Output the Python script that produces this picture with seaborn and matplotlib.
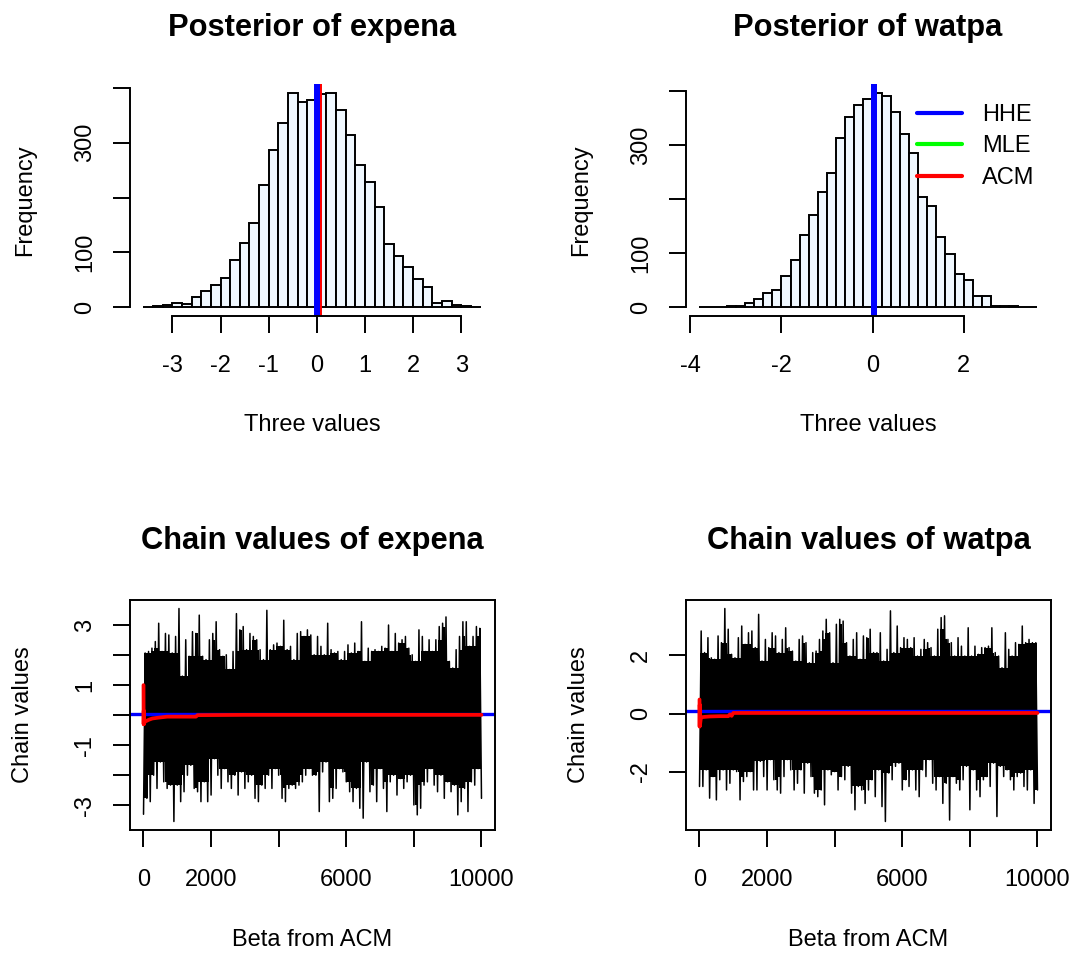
import numpy as np
import pandas as pd
import matplotlib
matplotlib.use("Agg")
import matplotlib.pyplot as plt
import seaborn as sns
from matplotlib.lines import Line2D

# ---------------- data ----------------
bin_width = 0.2
expena_break_start = -3.6
expena_counts = [1, 3, 4, 8, 7, 19, 30, 40, 54, 87, 118, 154, 222, 286, 336, 391,
                 373, 378, 388, 391, 360, 313, 260, 228, 183, 115, 94, 73, 51, 37,
                 8, 12, 4, 3, 1]
watpa_break_start = -3.8
watpa_counts = [0, 0, 1, 2, 3, 9, 15, 26, 33, 58, 88, 134, 170, 213, 249, 313, 352,
                374, 386, 397, 390, 361, 321, 286, 204, 188, 131, 99, 62, 51, 21, 21,
                3, 3, 2, 1, 0]

# estimates drawn as vertical lines on the histograms (HHE, MLE, ACM)
estimate_names = ["HHE", "MLE", "ACM"]
estimate_colors = ["#0000FF", "#00FF00", "#FF0000"]
expena_estimates = [0.005, 0.02, 0.04]
watpa_estimates = [0.04, 0.035, 0.035]

# chain values: upper / lower extremes read every 100 iterations
expena_first = -3.30
expena_upper = [2.07, 2.12, 2.23, 2.45, 3.06, 2.12, 2.72, 2.67, 2.07, 2.62,
                3.55, 1.30, 2.51, 1.96, 2.78, 2.72, 3.33, 1.96, 1.85, 2.51,
                2.72, 3.11, 2.18, 1.96, 2.01, 1.52, 2.12, 3.38, 2.84, 2.95,
                2.18, 2.72, 2.62, 2.51, 2.18, 1.85, 3.49, 2.18, 2.34, 2.40,
                2.29, 3.16, 2.18, 2.29, 1.85, 2.72, 2.78, 2.62, 2.84, 2.67,
                2.01, 2.62, 2.29, 2.01, 3.06, 2.18, 2.07, 2.12, 1.85, 2.12,
                2.34, 2.07, 2.40, 2.12, 3.11, 1.79, 2.23, 2.12, 2.18, 2.12,
                2.29, 2.23, 3.00, 2.12, 2.72, 2.40, 2.51, 2.62, 2.23, 2.01,
                1.79, 2.84, 2.62, 2.12, 2.51, 2.12, 2.51, 2.95, 3.06, 3.27,
                1.79, 1.57, 2.18, 2.62, 3.11, 3.11, 2.29, 2.62, 2.95, 2.89]
expena_lower = [-2.77, -2.88, -2.00, -2.44, -1.56, -2.22, -2.44, -2.33, -3.54, -2.33,
                -2.88, -2.55, -2.00, -1.67, -2.44, -2.55, -2.88, -2.22, -2.88, -2.66,
                -1.45, -2.00, -2.44, -1.78, -2.22, -2.44, -2.00, -2.66, -1.89, -2.44,
                -2.22, -2.00, -2.77, -2.88, -2.33, -2.44, -2.00, -2.44, -1.78, -2.00,
                -2.77, -2.88, -2.44, -2.33, -2.44, -2.33, -2.22, -2.00, -1.78, -2.00,
                -2.00, -3.21, -1.89, -1.56, -2.88, -2.77, -2.44, -1.78, -1.89, -2.22,
                -2.55, -2.88, -2.44, -3.10, -3.43, -1.56, -2.55, -2.33, -2.88, -1.78,
                -2.44, -3.21, -2.22, -2.00, -2.66, -2.11, -2.44, -2.22, -2.00, -2.99,
                -3.32, -3.10, -2.33, -2.22, -1.78, -2.33, -2.55, -2.00, -2.77, -2.22,
                -2.55, -2.33, -3.32, -2.88, -2.44, -3.21, -2.22, -2.33, -1.78, -2.77]
watpa_first = -2.50
watpa_upper = [2.83, 2.09, 2.60, 1.91, 1.86, 2.66, 2.43, 3.60, 2.89, 2.03,
               1.91, 2.60, 3.00, 2.37, 2.77, 2.83, 2.26, 3.40, 1.80, 2.54,
               2.26, 2.77, 2.66, 2.09, 2.54, 2.94, 2.26, 2.14, 1.80, 2.54,
               2.66, 2.43, 1.74, 2.09, 2.14, 2.54, 2.83, 3.23, 2.77, 1.74,
               3.06, 3.23, 3.17, 2.43, 1.97, 2.54, 2.77, 1.86, 2.66, 2.60,
               2.89, 2.09, 2.09, 2.77, 1.80, 2.20, 3.52, 2.09, 3.00, 2.26,
               2.60, 2.54, 2.26, 2.60, 1.97, 2.20, 2.54, 2.43, 2.26, 1.97,
               2.89, 3.29, 3.35, 2.54, 2.43, 1.97, 2.60, 2.31, 1.97, 2.94,
               1.97, 2.31, 2.03, 2.26, 2.26, 2.31, 2.94, 2.09, 1.97, 1.57,
               2.77, 2.20, 1.97, 2.43, 2.37, 3.00, 2.43, 2.54, 2.43, 2.43]
watpa_lower = [-2.50, -1.93, -2.90, -2.16, -2.96, -2.27, -1.93, -2.62, -2.39, -1.93,
               -1.99, -2.96, -2.33, -2.16, -1.99, -2.62, -2.62, -1.64, -2.16, -2.62,
               -1.58, -2.27, -2.62, -2.73, -2.16, -1.58, -1.93, -2.62, -2.39, -1.93,
               -2.73, -1.70, -2.16, -2.73, -2.85, -2.62, -3.13, -1.93, -2.10, -1.99,
               -2.62, -2.16, -2.27, -1.81, -2.73, -3.30, -2.50, -2.62, -3.08, -2.62,
               -2.27, -2.85, -1.93, -3.19, -3.70, -2.04, -2.27, -1.81, -1.70, -2.62,
               -2.27, -2.50, -1.93, -2.62, -2.85, -1.93, -2.16, -1.58, -2.39, -2.62,
               -2.16, -3.08, -2.39, -3.65, -2.16, -2.39, -2.62, -2.27, -1.81, -3.30,
               -1.93, -2.62, -2.85, -2.27, -2.16, -2.50, -1.70, -3.53, -1.81, -2.16,
               -1.93, -2.27, -2.62, -2.16, -2.04, -2.50, -2.62, -1.93, -3.08, -2.62]
n_iter = 10000

# ACM running estimate (red) and HHE level (blue) on the trace plots
expena_acm_iter = [1, 4, 8, 15, 35, 165, 265, 465, 700, 1550, 1600, 3000, 10000]
expena_acm = [1.00, -0.30, 0.15, -0.30, -0.22, -0.15, -0.11, -0.08, -0.05, -0.05,
              0.00, 0.01, 0.01]
watpa_acm_iter = [1, 4, 8, 15, 40, 100, 300, 600, 850, 900, 950, 1000, 3000, 10000]
watpa_acm = [0.48, -0.45, 0.30, -0.40, -0.15, -0.12, -0.10, -0.09, -0.09, -0.03,
             -0.08, 0.02, 0.02, 0.02]
expena_hhe_level = 0.03
watpa_hhe_level = 0.10

# ---------------- style ----------------
sns.set_style("ticks")
plt.rcParams["font.family"] = ["Liberation Sans", "DejaVu Sans"]
plt.rcParams["axes.unicode_minus"] = False
plt.rcParams["text.color"] = "black"
plt.rcParams["axes.labelcolor"] = "black"
plt.rcParams["xtick.color"] = "black"
plt.rcParams["ytick.color"] = "black"
FS = 17
TFS = 22.2
LW = 1.4

W, H = 1075, 959
fig = plt.figure(figsize=(W / 100, H / 100), dpi=100)


def add_ax(x0, y0, x1, y1):
    return fig.add_axes([x0 / W, 1 - y1 / H, (x1 - x0) / W, (y1 - y0) / H])


def style_axis(ax, xticks, xlabels, yticks, ylabels):
    ax.set_xticks(xticks)
    ax.set_xticklabels(xlabels)
    ax.set_yticks(yticks)
    ax.set_yticklabels(ylabels, rotation=90, va="center", ha="right")
    ax.tick_params(axis="both", direction="out", length=12.5, width=LW,
                   color="black", labelsize=FS, labelcolor="black",
                   bottom=True, left=True, top=False, right=False)
    ax.tick_params(axis="x", pad=15.5)
    ax.tick_params(axis="y", pad=12.0)
    ax.set_xlabel("")
    ax.set_ylabel("")
    ax.grid(False)
    for s in ax.spines.values():
        s.set_linewidth(LW)
        s.set_color("black")


def hist_panel(rect, start, counts, estimates, xticks, title, legend=False):
    ax = add_ax(*rect)
    n = len(counts)
    edges = (start + bin_width * np.arange(n + 1)).round(6)
    centers = edges[:-1] + bin_width / 2
    df = pd.DataFrame({"value": centers, "count": counts})
    sns.histplot(data=df, x="value", weights="count", bins=edges.tolist(), stat="count",
                 color="#F0F8FF", alpha=1, edgecolor="black", linewidth=LW, ax=ax)
    # draw MLE, ACM, then HHE on top
    for i in [1, 2, 0]:
        ax.axvline(estimates[i], color=estimate_colors[i], lw=4.3)
    lo, hi = edges[0], edges[-1]
    pad = 0.04 * (hi - lo)
    ax.set_xlim(lo - pad, hi + pad)
    m = max(counts)
    ax.set_ylim(-0.04 * m, 1.04 * m)
    style_axis(ax, xticks, [str(t) for t in xticks],
               [0, 100, 200, 300, 400], ["0", "100", "", "300", ""])
    ax.spines["top"].set_visible(False)
    ax.spines["right"].set_visible(False)
    ax.spines["bottom"].set_bounds(xticks[0], xticks[-1])
    ax.spines["left"].set_bounds(0, 400)
    cx = (rect[0] + rect[2]) / 2
    fig.text(cx / W, 1 - 28 / H, title, ha="center", va="center",
             fontsize=TFS, fontweight="bold")
    fig.text(cx / W, 1 - 425 / H, "Three values", ha="center", va="center", fontsize=FS)
    fig.text((rect[0] - 105) / W, 1 - 200 / H, "Frequency", ha="center", va="center",
             rotation=90, fontsize=FS)
    if legend:
        handles = [Line2D([], [], color=c, lw=3) for c in estimate_colors]
        ax.legend(handles, estimate_names, frameon=False, loc="upper left",
                  bbox_to_anchor=(917 / W, 1 - 104 / H), bbox_transform=fig.transFigure,
                  borderaxespad=0, borderpad=0, handlelength=1.9, handletextpad=0.85,
                  labelspacing=0.40, fontsize=FS)
    return ax


def trace_panel(rect, first, upper, lower, acm_iter, acm, hhe, yticks, ylabels, title):
    ax = add_ax(*rect)
    up = np.asarray(upper, float)
    lo = np.asarray(lower, float)
    k = np.arange(len(up))
    up_it = 50 + 100 * k
    lo_it = 100 + 100 * k
    # solid core of the trace: the lowest neighbouring peak / highest neighbouring trough
    upp = np.pad(up, 1, mode="edge")
    lop = np.pad(lo, 1, mode="edge")
    core_up = np.minimum(np.minimum(upp[:-2], upp[1:-1]), upp[2:])
    core_lo = np.maximum(np.maximum(lop[:-2], lop[1:-1]), lop[2:])
    core_x = np.concatenate([[1], up_it + 25, [n_iter]])
    core_u = np.concatenate([[core_up[0]], core_up, [core_up[-1]]])
    core_l = np.concatenate([[core_lo[0]], core_lo, [core_lo[-1]]])
    ax.fill_between(core_x, core_l, core_u, color="black", lw=0, step="mid")
    # the chain itself
    its = np.empty(2 * len(up) + 1)
    vals = np.empty(2 * len(up) + 1)
    its[0], vals[0] = 1, first
    its[1::2], its[2::2] = up_it, lo_it
    vals[1::2], vals[2::2] = up, lo
    chain = pd.DataFrame({"iter": its, "value": vals})
    sns.lineplot(data=chain, x="iter", y="value", color="black", lw=1.1,
                 estimator=None, sort=False, ax=ax)
    ax.axhline(hhe, color="#0000FF", lw=2.4)
    acm_df = pd.DataFrame({"iter": acm_iter, "value": acm})
    sns.lineplot(data=acm_df, x="iter", y="value", color="#FF0000", lw=2.7,
                 estimator=None, sort=False, ax=ax)
    xpad = 0.04 * (n_iter - 1)
    ax.set_xlim(1 - xpad, n_iter + xpad)
    vmin, vmax = min(vals.min(), min(acm)), max(vals.max(), max(acm))
    ypad = 0.04 * (vmax - vmin)
    ax.set_ylim(vmin - ypad, vmax + ypad)
    style_axis(ax, [0, 2000, 4000, 6000, 8000, 10000],
               ["0", "2000", "", "6000", "", "10000"], yticks, ylabels)
    cx = (rect[0] + rect[2]) / 2
    fig.text(cx / W, 1 - 541 / H, title, ha="center", va="center",
             fontsize=TFS, fontweight="bold")
    fig.text(cx / W, 1 - 940 / H, "Beta from ACM", ha="center", va="center", fontsize=FS)
    fig.text((rect[0] - 107) / W, 1 - 715 / H, "Chain values", ha="center", va="center",
             rotation=90, fontsize=FS)
    return ax


hist_panel((130, 84, 494, 316), expena_break_start, expena_counts, expena_estimates,
           [-3, -2, -1, 0, 1, 2, 3], "Posterior of expena")
hist_panel((686, 84, 1050, 316), watpa_break_start, watpa_counts, watpa_estimates,
           [-4, -2, 0, 2], "Posterior of watpa", legend=True)
trace_panel((130, 600, 495, 830), expena_first, expena_upper, expena_lower,
            expena_acm_iter, expena_acm, expena_hhe_level,
            [-3, -2, -1, 0, 1, 2, 3], ["-3", "", "-1", "", "1", "", "3"],
            "Chain values of expena")
trace_panel((686, 600, 1051, 830), watpa_first, watpa_upper, watpa_lower,
            watpa_acm_iter, watpa_acm, watpa_hhe_level,
            [-2, 0, 2], ["-2", "0", "2"], "Chain values of watpa")

fig.savefig("out.png", dpi=100)
